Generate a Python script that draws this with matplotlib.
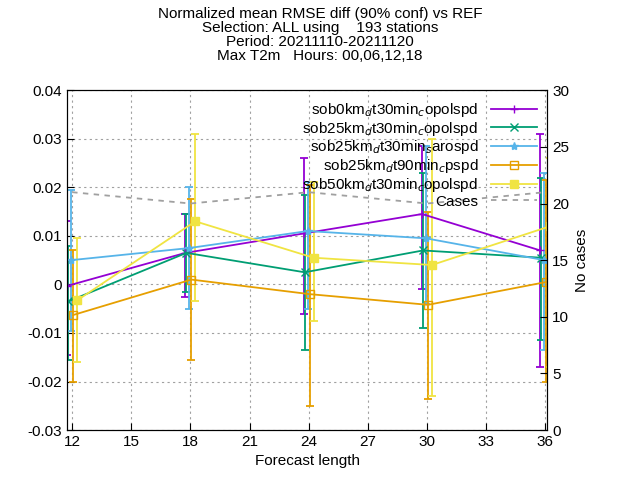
import matplotlib
matplotlib.use("Agg")
import matplotlib.pyplot as plt
from matplotlib.lines import Line2D
import numpy as np

plt.rcParams['font.family'] = ['Liberation Sans', 'DejaVu Sans']
plt.rcParams['font.size'] = 11

lengths = np.array([12, 18, 24, 30, 36])
names = ['sob0km$_d$t30min$_c$opolspd', 'sob25km$_d$t30min$_c$opolspd',
         'sob25km$_d$t30min$_s$arospd', 'sob25km$_d$t90min$_c$pspd',
         'sob50km$_d$t30min$_c$opolspd']
means = [
    [-0.0003, 0.0065, 0.0105, 0.0145, 0.0070],
    [-0.0035, 0.0065, 0.0025, 0.0070, 0.0055],
    [0.0050, 0.0075, 0.0110, 0.0095, 0.0050],
    [-0.0063, 0.0010, -0.0020, -0.0042, 0.0005],
    [-0.0033, 0.0130, 0.0055, 0.0040, 0.0120],
]
upper = [
    [0.0130, 0.0145, 0.0260, 0.0285, 0.0310],
    [0.0080, 0.0145, 0.0185, 0.0230, 0.0220],
    [0.0195, 0.0200, 0.0210, 0.0285, 0.0230],
    [0.0070, 0.0175, 0.0205, 0.0150, 0.0215],
    [0.0095, 0.0310, 0.0210, 0.0300, 0.0260],
]
lower = [
    [-0.0145, -0.0025, -0.0060, -0.0010, -0.0170],
    [-0.0155, -0.0015, -0.0135, -0.0090, -0.0115],
    [-0.0095, -0.0050, -0.0050, -0.0040, -0.0135],
    [-0.0200, -0.0155, -0.0250, -0.0235, -0.0200],
    [-0.0160, -0.0035, -0.0075, -0.0230, -0.0170],
]
cases = [21, 20, 21, 20, 21]

colors = ['#9400d3', '#009e73', '#56b4e9', '#e69f00', '#f0e442']
markers = ['+', 'x', '*', 's', 's']
fills = ['full', 'full', 'full', 'none', 'full']
offsets = [-0.25, -0.2, -0.05, 0.05, 0.25]

fig = plt.figure(figsize=(6.4, 4.8), dpi=100)
ax = fig.add_axes([0.105, 0.104, 0.75, 0.708])
ax2 = ax.twinx()

handles = []
for i in range(5):
    m = np.array(means[i])
    err = [m - np.array(lower[i]), np.array(upper[i]) - m]
    ax.errorbar(lengths + offsets[i], m, yerr=err, color=colors[i], marker=markers[i],
                fillstyle=fills[i], markersize=6, lw=1.3, elinewidth=1.3,
                capsize=3, capthick=1.3)
    handles.append(Line2D([], [], color=colors[i], marker=markers[i], fillstyle=fills[i],
                          markersize=6, lw=1.3))

hc, = ax2.plot(lengths, cases, color='#a0a0a0', ls=(0, (3, 3)), lw=1.3)
handles.append(hc)

ax.set_xlim(11.75, 36.1)
ax.set_ylim(-0.03, 0.04)
ax.set_xticks(np.arange(12, 37, 3))
ax.set_yticks(np.arange(-0.03, 0.041, 0.01))
ax.set_yticklabels(['-0.03', '-0.02', '-0.01', '0', '0.01', '0.02', '0.03', '0.04'])
ax2.set_ylim(0, 30)
ax2.set_yticks(np.arange(0, 31, 5))
ax.grid(True, color='#a0a0a0', ls=(0, (2, 3)), lw=0.8)
for a in (ax, ax2):
    a.tick_params(direction='in', length=5, labelsize=11)
ax.set_xlabel('Forecast length')
ax2.set_ylabel('No cases')
fig.text(0.5, 0.985, 'Normalized mean RMSE diff (90% conf) vs REF\nSelection: ALL using    193 stations\n'
         'Period: 20211110-20211120\nMax T2m   Hours: 00,06,12,18', fontsize=11,
         ha='center', va='top', linespacing=1.0)

ax2.legend(handles=handles, labels=names + ['Cases'], loc='upper right', markerfirst=False,
           frameon=False, fontsize=11, handlelength=3, labelspacing=0.05,
           borderpad=0.2, handletextpad=0.8)

fig.savefig('out.png')
